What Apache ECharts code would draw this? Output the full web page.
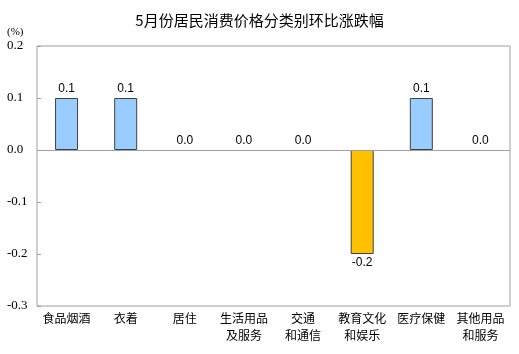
<!DOCTYPE html>
<html>
<head>
<meta charset="utf-8">
<script src="https://cdn.jsdelivr.net/npm/echarts@6/dist/echarts.min.js"></script>
<style>
  html, body { margin: 0; padding: 0; background: #fff; }
  #main { width: 519px; height: 354px; }
</style>
</head>
<body>
<div id="main"></div>
<script>
// 分类名称
var categories = ['食品烟酒', '衣着', '居住', '生活用品\n及服务', '交通\n和通信', '教育文化\n和娱乐', '医疗保健', '其他用品\n和服务'];
// 环比涨跌幅(%)
var values = [0.1, 0.1, 0.0, 0.0, 0.0, -0.2, 0.1, 0.0];

var chart = echarts.init(document.getElementById('main'));

var barData = values.map(function (v) {
  return {
    value: v,
    itemStyle: {
      color: v < 0 ? '#FFC000' : '#99CCFF',
      borderWidth: v === 0 ? 0 : 1
    },
    label: { position: v < 0 ? 'bottom' : 'top' }
  };
});

var option = {
  animation: false,
  title: {
    text: '5月份居民消费价格分类别环比涨跌幅',
    left: 'center',
    top: 8,
    textStyle: {
      fontFamily: 'Noto Sans CJK SC',
      fontSize: 15,
      fontWeight: 'normal',
      color: '#000'
    }
  },
  graphic: [{
    type: 'text',
    left: 7,
    top: 27,
    style: { text: '(%)', font: '11px "Liberation Serif"', fill: '#000' }
  }],
  grid: {
    left: 37,
    right: 9,
    top: 46,
    bottom: 48,
    show: true,
    borderColor: '#A0A0A0',
    borderWidth: 1
  },
  xAxis: {
    type: 'category',
    data: categories,
    axisLine: { show: false },
    axisTick: { show: false },
    axisLabel: {
      interval: 0,
      margin: 4,
      fontFamily: 'Noto Sans CJK SC',
      fontSize: 12,
      lineHeight: 17,
      color: '#000'
    }
  },
  yAxis: {
    type: 'value',
    min: -0.3,
    max: 0.2,
    interval: 0.1,
    axisLine: { show: false },
    axisTick: { show: true, inside: true, length: 4, lineStyle: { color: '#A0A0A0' } },
    splitLine: { show: false },
    axisLabel: {
      align: 'left',
      margin: 30,
      fontFamily: 'Liberation Serif',
      fontSize: 13,
      color: '#000',
      formatter: function (v) { return v.toFixed(1); }
    }
  },
  series: [{
    type: 'bar',
    data: barData,
    barWidth: 23,
    itemStyle: { borderColor: '#404040', borderWidth: 1 },
    label: {
      show: true,
      distance: 3,
      fontFamily: 'Liberation Sans',
      fontSize: 12,
      color: '#000',
      formatter: function (p) { return p.value.toFixed(1); }
    },
    markLine: {
      silent: true,
      symbol: 'none',
      label: { show: false },
      lineStyle: { color: '#A0A0A0', type: 'solid', width: 1 },
      data: [{ yAxis: 0 }]
    }
  }]
};

chart.setOption(option);
</script>
</body>
</html>
